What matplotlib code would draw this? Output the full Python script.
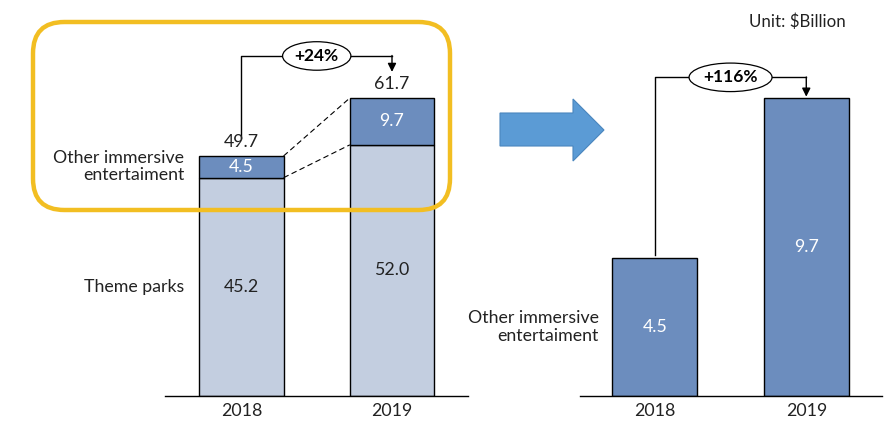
import matplotlib.pyplot as plt
import matplotlib.patches as mpatches
import numpy as np

plt.rcParams['font.family'] = ['Lato', 'DejaVu Sans']

# data
years = ['2018', '2019']
theme_parks = [45.2, 52.0]
other_immersive = [4.5, 9.7]
totals = [49.7, 61.7]
growth_total = '+24%'
growth_other = '+116%'

dark = '#6C8DBE'
light = '#C3CEE0'
txt = '#222222'
fs = 12.8
W, H = 896, 430

fig = plt.figure(figsize=(W / 100, H / 100), dpi=100)

def px_axes(x0, x1, y_base):
    # axes whose bottom is the baseline and top is the figure top
    return fig.add_axes([x0 / W, (H - y_base) / H, (x1 - x0) / W, y_base / H])

x = np.arange(len(years))
bw = 0.56

# ---- left: stacked chart
ax1 = px_axes(165, 468, 396)
ax1.bar(x, theme_parks, bw, color=light, edgecolor='black', linewidth=1)
ax1.bar(x, other_immersive, bw, bottom=theme_parks, color=dark, edgecolor='black', linewidth=1)
ax1.set_xlim(-0.508, 1.505)
ax1.set_ylim(0, 396 / 4.83)

for i in x:
    ax1.text(i, theme_parks[i] / 2, f'{theme_parks[i]:.1f}', ha='center', va='center', fontsize=fs, color=txt)
    ax1.text(i, theme_parks[i] + other_immersive[i] / 2, f'{other_immersive[i]:.1f}', ha='center', va='center',
             fontsize=fs, color='white')
    ax1.text(i, totals[i] + 1.2, f'{totals[i]:.1f}', ha='center', va='bottom', fontsize=fs, color=txt)

# dashed connectors between segments
for y0, y1 in [(totals[0], totals[1]), (theme_parks[0], theme_parks[1])]:
    ax1.plot([bw / 2, 1 - bw / 2], [y0, y1], color='black', lw=0.8, ls=(0, (5, 3)))

# growth bracket
top1 = totals[1] + 8.7
ax1.plot([0, 0, 1], [totals[0] + 3.7, top1, top1], color='black', lw=1)
ax1.annotate('', xy=(1, totals[1] + 5.4), xytext=(1, top1 + 0.1),
             arrowprops=dict(arrowstyle='-|>,head_width=0.25,head_length=0.5', color='black', lw=1, shrinkA=0, shrinkB=0))
ax1.text(0.5, top1, growth_total, ha='center', va='center', fontsize=12.5, fontweight='bold',
         bbox=dict(boxstyle='ellipse,pad=0.12', fc='white', ec='black', lw=0.9))

ax1.text(-0.38, theme_parks[0] + other_immersive[0] / 2, 'Other immersive\nentertaiment', ha='right', va='center',
         fontsize=fs, color=txt, linespacing=1.1)
ax1.text(-0.38, theme_parks[0] / 2, 'Theme parks', ha='right', va='center', fontsize=fs, color=txt)

# ---- right: other immersive only
ax2 = px_axes(580, 882, 396)
ax2.bar(x, other_immersive, bw, color=dark, edgecolor='black', linewidth=1)
ax2.set_xlim(-0.494, 1.5)
ax2.set_ylim(0, 396 / 30.7)
for i in x:
    ax2.text(i, other_immersive[i] / 2, f'{other_immersive[i]:.1f}', ha='center', va='center', fontsize=fs, color='white')

top2 = other_immersive[1] + 0.68
ax2.plot([0, 0, 1], [other_immersive[0] + 0.1, top2, top2], color='black', lw=1)
ax2.annotate('', xy=(1, other_immersive[1] + 0.05), xytext=(1, top2 + 0.01),
             arrowprops=dict(arrowstyle='-|>,head_width=0.25,head_length=0.5', color='black', lw=1, shrinkA=0, shrinkB=0))
ax2.text(0.5, top2, growth_other, ha='center', va='center', fontsize=12.5, fontweight='bold',
         bbox=dict(boxstyle='ellipse,pad=0.12', fc='white', ec='black', lw=0.9))
ax2.text(-0.37, other_immersive[0] / 2, 'Other immersive\nentertaiment', ha='right', va='center',
         fontsize=fs, color=txt, linespacing=1.1)

for ax in (ax1, ax2):
    ax.set_xticks(x)
    ax.set_xticklabels(years, fontsize=fs, color=txt)
    ax.tick_params(axis='x', length=0, pad=5)
    ax.set_yticks([])
    for s in ['top', 'left', 'right']:
        ax.spines[s].set_visible(False)
    ax.spines['bottom'].set_linewidth(1)
    ax.patch.set_visible(False)

# yellow rounded highlight box (pixel coords -> figure fraction)
box = mpatches.FancyBboxPatch((33 / W, (H - 210) / H), (450 - 33) / W, (210 - 22) / H,
                              boxstyle='round,pad=0,rounding_size=0.035', transform=fig.transFigure,
                              fill=False, ec='#F2BE22', lw=3.2, mutation_aspect=W / H)
fig.patches.append(box)

# blue arrow between panels
arrow_pts = np.array([[500, 113], [573, 113], [573, 99], [604, 130], [573, 161], [573, 146], [500, 146]], float)
arrow_pts[:, 0] /= W
arrow_pts[:, 1] = (H - arrow_pts[:, 1]) / H
fig.patches.append(mpatches.Polygon(arrow_pts, closed=True, transform=fig.transFigure,
                                    fc='#5B9BD5', ec='#4A86BE', lw=0.8))

fig.text(797 / W, (H - 22) / H, 'Unit: $Billion', ha='center', va='center', fontsize=12.2, color=txt)

plt.savefig('out.png', dpi=100)
